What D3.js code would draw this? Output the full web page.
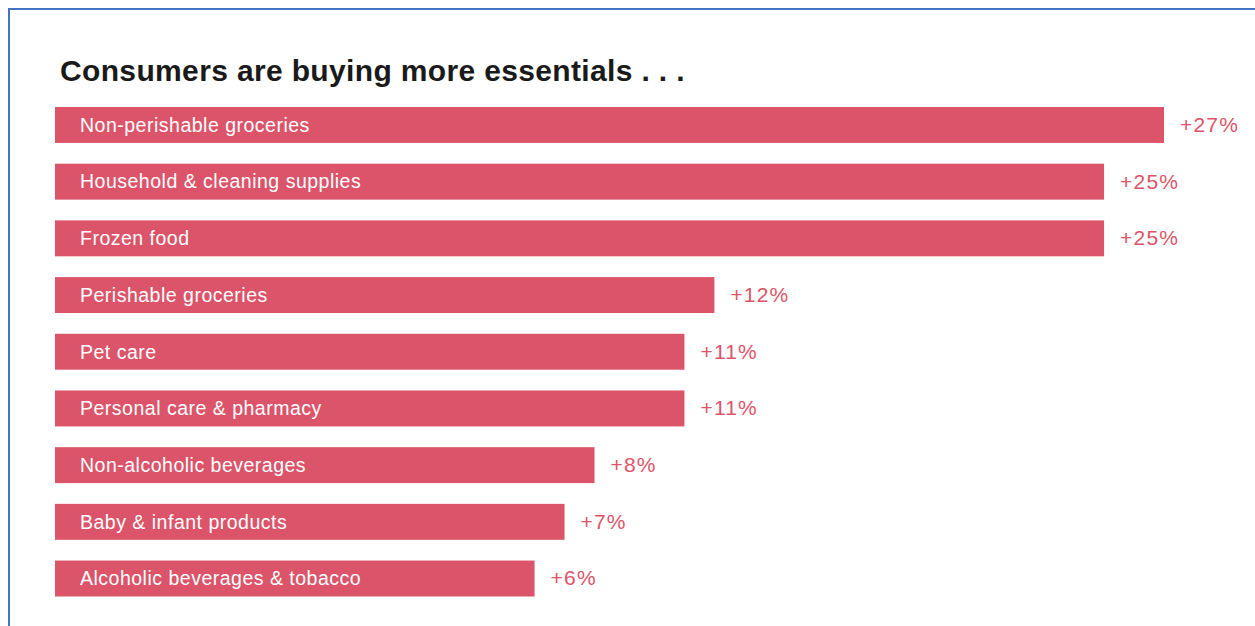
<!DOCTYPE html>
<html>
<head>
<meta charset="utf-8">
<script src="https://cdn.jsdelivr.net/npm/d3@7/dist/d3.min.js"></script>
<style>
  html, body { margin: 0; padding: 0; background: #fff; }
  svg { display: block; }
  text { font-family: "Liberation Sans", Arial, Helvetica, sans-serif; }
</style>
</head>
<body>
<svg id="chart" width="1255" height="626"></svg>
<script>
// Year-over-year change in spending, by category
const categories = [
  "Non-perishable groceries",
  "Household & cleaning supplies",
  "Frozen food",
  "Perishable groceries",
  "Pet care",
  "Personal care & pharmacy",
  "Non-alcoholic beverages",
  "Baby & infant products",
  "Alcoholic beverages & tobacco"
];
const growth = [27, 25, 25, 12, 11, 11, 8, 7, 6];
const valueLabels = ["+27%", "+25%", "+25%", "+12%", "+11%", "+11%", "+8%", "+7%", "+6%"];
const title = "Consumers are buying more essentials . . .";

const barColor = "#dc5469";
const svg = d3.select("#chart");

// Frame
svg.append("rect")
  .attr("x", 9).attr("y", 9)
  .attr("width", 1260).attr("height", 640)
  .attr("fill", "none")
  .attr("stroke", "#4472c4")
  .attr("stroke-width", 2);

svg.append("text")
  .attr("x", 60).attr("y", 81)
  .attr("font-size", 30)
  .attr("font-weight", "bold")
  .attr("letter-spacing", 0.35)
  .attr("fill", "#1a1a1a")
  .text(title);

const rows = categories.map((c, i) => ({ cat: c, v: growth[i], lbl: valueLabels[i] }));

// Bars share a baseline below zero so short bars keep room for their labels
const x = d3.scaleLinear().domain([-10, 27]).range([55, 1164]);
const y = d3.scaleBand()
  .domain(categories)
  .range([107, 596.5])
  .paddingInner(0.366)
  .paddingOuter(0);

const g = svg.append("g");
const row = g.selectAll("g.row").data(rows).join("g").attr("class", "row");

row.append("rect")
  .attr("x", x(-10))
  .attr("y", d => y(d.cat))
  .attr("width", d => x(d.v) - x(-10))
  .attr("height", y.bandwidth())
  .attr("fill", barColor);

row.append("text")
  .attr("x", x(-10) + 25)
  .attr("y", d => y(d.cat) + y.bandwidth() / 2)
  .attr("dy", "0.35em")
  .attr("font-size", 19.5)
  .attr("letter-spacing", 0.5)
  .attr("fill", "#fff")
  .text(d => d.cat);

row.append("text")
  .attr("x", d => x(d.v) + 16)
  .attr("y", d => y(d.cat) + y.bandwidth() / 2)
  .attr("dy", "0.33em")
  .attr("font-size", 21)
  .attr("letter-spacing", 1.2)
  .attr("fill", barColor)
  .text(d => d.lbl);
</script>
</body>
</html>
